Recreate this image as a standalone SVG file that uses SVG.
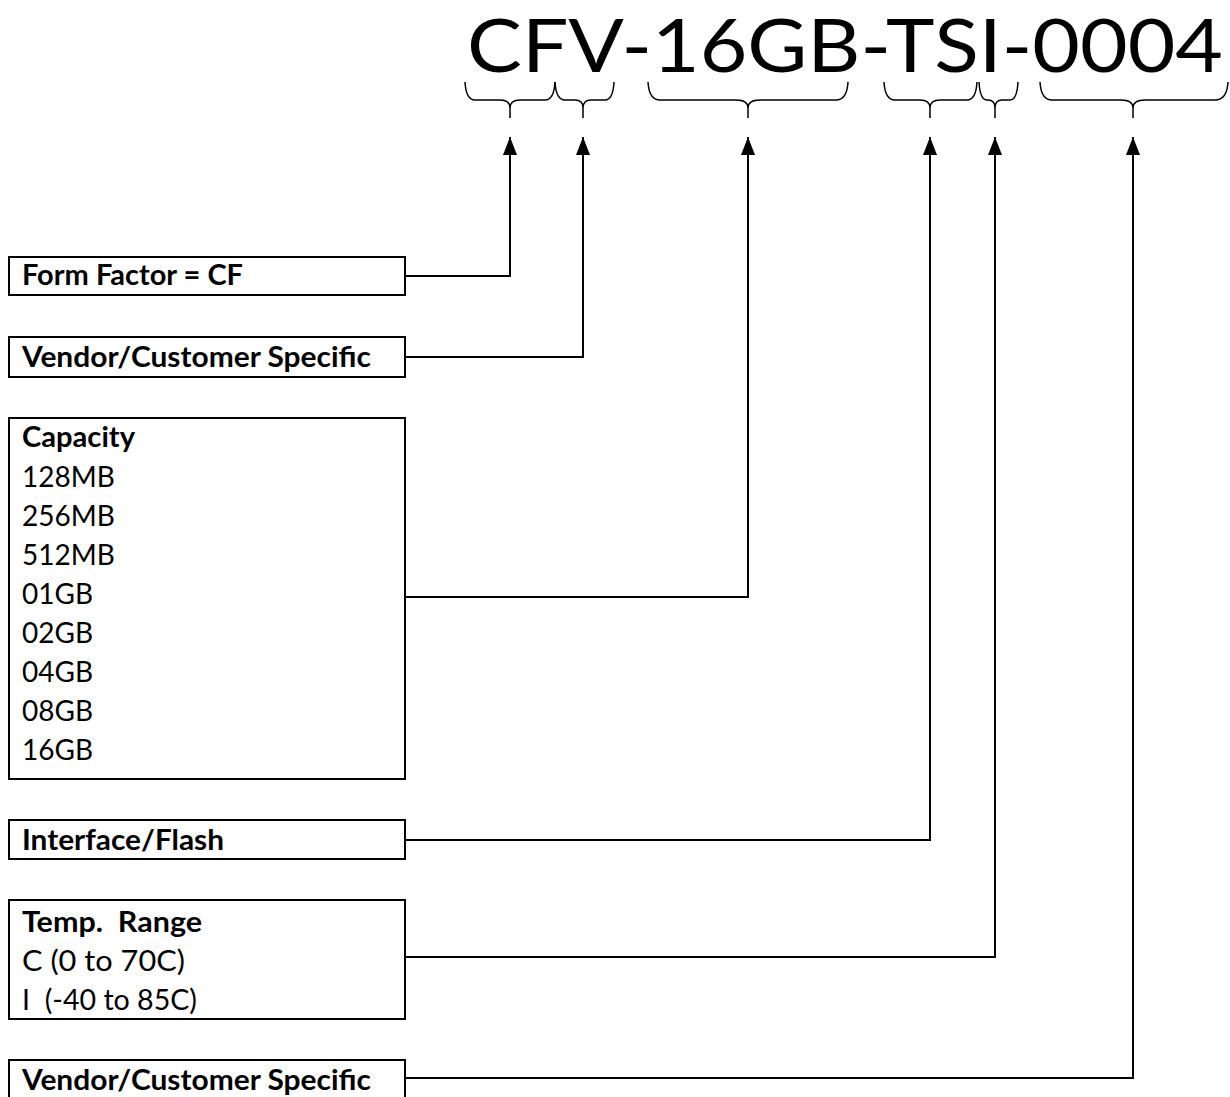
<svg xmlns="http://www.w3.org/2000/svg" width="1230" height="1097" viewBox="0 0 1230 1097">
<style>
.box{fill:#fff;stroke:#000;stroke-width:2}
.t{font-family:Lato,"Open Sans","Liberation Sans",sans-serif;font-size:28px;fill:#000}
.b{font-weight:bold}
.ln{fill:none;stroke:#000;stroke-width:2}
.br{fill:none;stroke:#000;stroke-width:1.5}
</style>
<defs>
<marker id="arr" markerWidth="18" markerHeight="14" refX="18" refY="7" orient="auto" markerUnits="userSpaceOnUse" viewBox="0 0 18 14">
<path d="M0,0 L18,7 L0,14 Z" fill="#000"/>
</marker>
</defs>
<rect width="1230" height="1097" fill="#fff"/>
<g id="title">
<text x="467" y="72" font-family="Lato,'Open Sans','Liberation Sans',sans-serif" font-size="74" textLength="756" lengthAdjust="spacingAndGlyphs">CFV-16GB-TSI-0004</text>
</g>
<g id="braces" class="br">
<path d="M465,82 Q466,100 475,100 L500,100 Q510,100 510,108 L510,118 M510,108 Q510,100 520,100 L545,100 Q554,100 555,82"/>
<path d="M555,82 Q556,100 565,100 L575,100 Q583,100 583,108 L583,118 M583,108 Q583,100 591,100 L605,100 Q613,100 614,82"/>
<path d="M648,82 Q649,100 660,100 L736,100 Q748,100 748,108 L748,118 M748,108 Q748,100 760,100 L836,100 Q847,100 848,82"/>
<path d="M884,82 Q885,100 895,100 L920,100 Q930,100 930,108 L930,118 M930,108 Q930,100 940,100 L967,100 Q976,100 977,82"/>
<path d="M979,82 Q980,100 987,100 L988,100 Q995,100 995,108 L995,118 M995,108 Q995,100 1002,100 L1010,100 Q1017,100 1018,82"/>
<path d="M1040,82 Q1041,100 1052,100 L1121,100 Q1133,100 1133,108 L1133,118 M1133,108 Q1133,100 1145,100 L1215,100 Q1227,100 1228,82"/>
</g>
<g id="connectors" class="ln">
<path d="M405,276 H510 V137" marker-end="url(#arr)"/>
<path d="M405,357 H583 V137" marker-end="url(#arr)"/>
<path d="M405,597 H748 V137" marker-end="url(#arr)"/>
<path d="M405,840 H930 V137" marker-end="url(#arr)"/>
<path d="M405,957 H995 V137" marker-end="url(#arr)"/>
<path d="M405,1078 H1133 V137" marker-end="url(#arr)"/>
</g>
<g id="form-factor">
<rect class="box" x="9" y="257" width="396" height="38"/>
<text class="t b" x="22" y="285" textLength="221" lengthAdjust="spacingAndGlyphs">Form Factor = CF</text>
</g>
<g id="vendor-1">
<rect class="box" x="9" y="337" width="396" height="40"/>
<text class="t b" x="22" y="367" textLength="349" lengthAdjust="spacingAndGlyphs">Vendor/Customer Specific</text>
</g>
<g id="capacity">
<rect class="box" x="9" y="418" width="396" height="361"/>
<text class="t b" x="22" y="447" textLength="113" lengthAdjust="spacingAndGlyphs">Capacity</text>
<text class="t" x="22" y="487">128MB</text>
<text class="t" x="22" y="526">256MB</text>
<text class="t" x="22" y="565">512MB</text>
<text class="t" x="22" y="604">01GB</text>
<text class="t" x="22" y="643">02GB</text>
<text class="t" x="22" y="682">04GB</text>
<text class="t" x="22" y="721">08GB</text>
<text class="t" x="22" y="760">16GB</text>
</g>
<g id="interface">
<rect class="box" x="9" y="820" width="396" height="39"/>
<text class="t b" x="22" y="850" textLength="202" lengthAdjust="spacingAndGlyphs">Interface/Flash</text>
</g>
<g id="temp">
<rect class="box" x="9" y="900" width="396" height="119"/>
<text class="t b" x="22" y="932" xml:space="preserve" textLength="180" lengthAdjust="spacingAndGlyphs">Temp.  Range</text>
<text class="t" x="22" y="971" textLength="163" lengthAdjust="spacingAndGlyphs">C (0 to 70C)</text>
<text class="t" x="22" y="1010" xml:space="preserve" textLength="175" lengthAdjust="spacingAndGlyphs">I  (-40 to 85C)</text>
</g>
<g id="vendor-2">
<rect class="box" x="9" y="1060" width="396" height="50"/>
<text class="t b" x="22" y="1090" textLength="349" lengthAdjust="spacingAndGlyphs">Vendor/Customer Specific</text>
</g>
</svg>
